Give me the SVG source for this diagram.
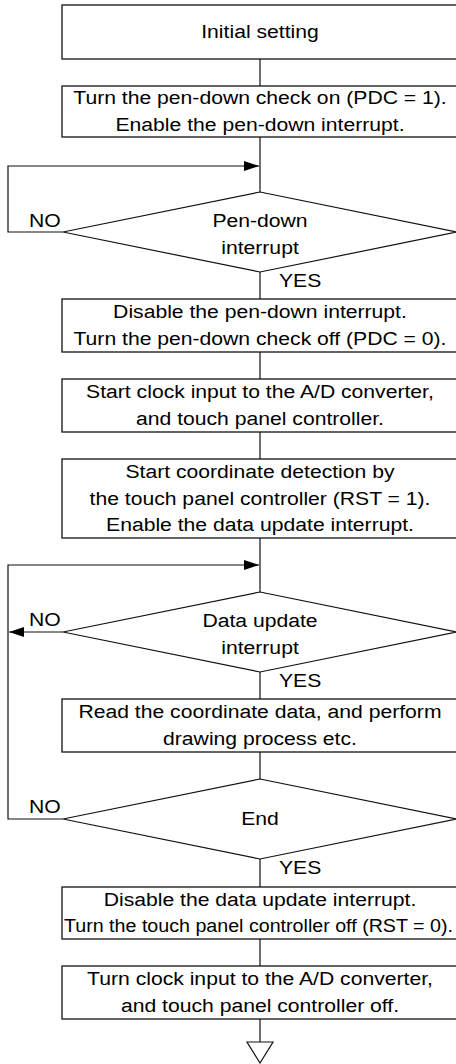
<svg xmlns="http://www.w3.org/2000/svg" width="456" height="1064" viewBox="0 0 456 1064">
<style>
.box{fill:#fff;stroke:#111;stroke-width:1.3}
.dia{fill:#fff;stroke:#111;stroke-width:1.2}
.ln{fill:none;stroke:#111;stroke-width:1.2}
text{font-family:"Liberation Sans",Arial,sans-serif;font-size:18px;fill:#000}
.c{text-anchor:middle}
</style>
<defs>
<marker id="ah" markerUnits="userSpaceOnUse" markerWidth="15" markerHeight="10" refX="15" refY="5" orient="auto">
<path d="M0,0 L15,5 L0,10 z" fill="#000"/>
</marker>
</defs>
<rect width="456" height="1064" fill="#fff"/>
<g id="connectors">
<path class="ln" d="M260,59 V86 M260,137 V192 M260,272 V299 M260,352 V379 M260,432 V459 M260,538 V592 M260,672 V699 M260,752 V779 M260,859 V887 M260,939 V966 M260,1019 V1042"/>
<path class="ln" d="M63,232 H8 V166 H259" marker-end="url(#ah)"/>
<path class="ln" d="M63,819 H8 V565 H259" marker-end="url(#ah)"/>
<path class="ln" d="M63,632 H9" marker-end="url(#ah)"/>
<polygon class="ln" points="247,1042 273,1042 260,1063" fill="#fff"/>
</g>
<g id="n1">
<rect class="box" x="62" y="5" width="400" height="54"/>
<g transform="matrix(1.175 0 0 1 -45.5 0)"><text class="c" x="260" y="38.5">Initial setting</text></g>
</g>
<g id="n2">
<rect class="box" x="62" y="86" width="400" height="51"/>
<g transform="matrix(1.175 0 0 1 -45.5 0)">
<text class="c" x="260" y="104.5">Turn the pen-down check on (PDC = 1).</text>
<text class="c" x="260" y="131">Enable the pen-down interrupt.</text>
</g>
</g>
<g id="d1">
<polygon class="dia" points="260,192 457,232 260,272 63,232"/>
<g transform="matrix(1.175 0 0 1 -45.5 0)">
<text class="c" x="260" y="227.5">Pen-down</text>
<text class="c" x="260" y="254.5">interrupt</text>
<text x="63.4" y="227">NO</text>
<text x="276.2" y="287">YES</text>
</g>
</g>
<g id="n3">
<rect class="box" x="62" y="299" width="400" height="53"/>
<g transform="matrix(1.175 0 0 1 -45.5 0)">
<text class="c" x="260" y="318.5">Disable the pen-down interrupt.</text>
<text class="c" x="260" y="345">Turn the pen-down check off (PDC = 0).</text>
</g>
</g>
<g id="n4">
<rect class="box" x="62" y="379" width="400" height="53"/>
<g transform="matrix(1.175 0 0 1 -45.5 0)">
<text class="c" x="260" y="398.5">Start clock input to the A/D converter,</text>
<text class="c" x="260" y="425">and touch panel controller.</text>
</g>
</g>
<g id="n5">
<rect class="box" x="62" y="459" width="400" height="79"/>
<g transform="matrix(1.175 0 0 1 -45.5 0)">
<text class="c" x="260" y="478.5">Start coordinate detection by</text>
<text class="c" x="260" y="505">the touch panel controller (RST = 1).</text>
<text class="c" x="260" y="531.5">Enable the data update interrupt.</text>
</g>
</g>
<g id="d2">
<polygon class="dia" points="260,592 457,632 260,672 63,632"/>
<g transform="matrix(1.175 0 0 1 -45.5 0)">
<text class="c" x="260" y="627.5">Data update</text>
<text class="c" x="260" y="654.5">interrupt</text>
<text x="63.4" y="626.5">NO</text>
<text x="276.2" y="687">YES</text>
</g>
</g>
<g id="n6">
<rect class="box" x="62" y="699" width="400" height="53"/>
<g transform="matrix(1.175 0 0 1 -45.5 0)">
<text class="c" x="260" y="718.5">Read the coordinate data, and perform</text>
<text class="c" x="260" y="745">drawing process etc.</text>
</g>
</g>
<g id="d3">
<polygon class="dia" points="260,779 457,819 260,859 63,819"/>
<g transform="matrix(1.175 0 0 1 -45.5 0)">
<text class="c" x="260" y="825.5">End</text>
<text x="63.4" y="813.5">NO</text>
<text x="276.2" y="874">YES</text>
</g>
</g>
<g id="n7">
<rect class="box" x="62" y="887" width="400" height="52"/>
<g transform="matrix(1.175 0 0 1 -45.5 0)">
<text class="c" x="260" y="906">Disable the data update interrupt.</text>
<text class="c" x="258.7" y="932" textLength="331" lengthAdjust="spacingAndGlyphs">Turn the touch panel controller off (RST = 0).</text>
</g>
</g>
<g id="n8">
<rect class="box" x="62" y="966" width="400" height="53"/>
<g transform="matrix(1.175 0 0 1 -45.5 0)">
<text class="c" x="260" y="985.5">Turn clock input to the A/D converter,</text>
<text class="c" x="260" y="1012">and touch panel controller off.</text>
</g>
</g>
</svg>
